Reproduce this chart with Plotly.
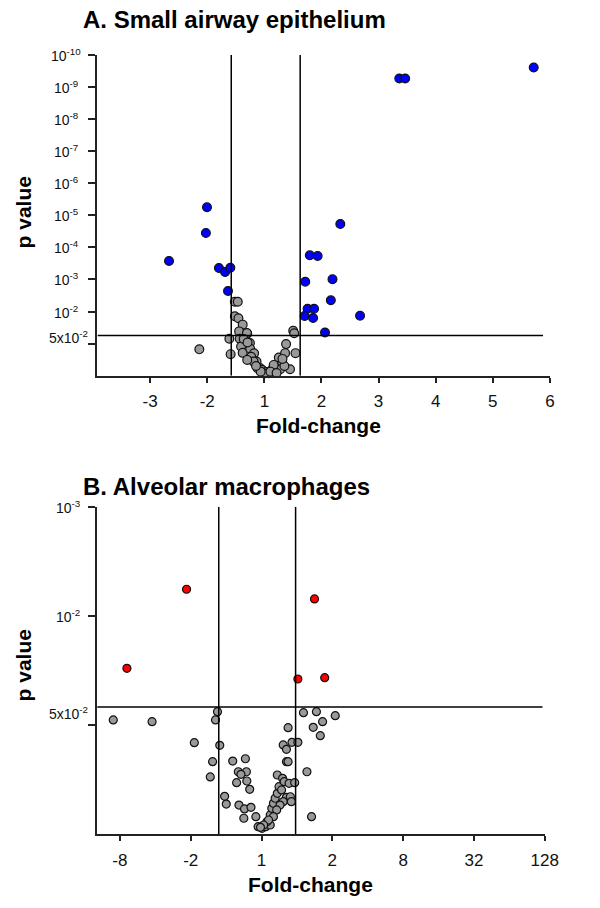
import plotly.graph_objects as go

W, H = 600, 908
FONT = "Liberation Sans, Arial, Helvetica, sans-serif"
AXC = "#222222"

# ---------------- Panel A: Small airway epithelium ----------------
# x = position on the fold-change axis (tick index units), y = -log10(p)
a_xtick_pos = [-2, -1, 0, 1, 2, 3, 4, 5]
a_xtick_text = ["-3", "-2", "1", "2", "3", "4", "5", "6"]
a_ytick_pos = [2, 3, 4, 5, 6, 7, 8, 9, 10]
a_ytick_text = ["10<sup>-%d</sup>" % v for v in a_ytick_pos]
a_fc_cut = [-0.58, 0.627]
a_p_cut = 1.253

a_sig_x = [2.363, 2.466, 4.717, -1.005, -1.024, 1.330, -1.670, -0.796, -0.688, -0.596,
           -0.637, 0.796, 0.933, 0.716, 1.193, 1.164, 0.757, 0.870, 0.705, 0.853,
           1.676, 1.062]
a_sig_y = [9.264, 9.264, 9.607, 5.249, 4.448, 4.729, 3.575, 3.357, 3.232, 3.367,
           2.640, 3.753, 3.731, 2.930, 3.005, 2.350, 2.089, 2.089, 1.861, 1.799,
           1.870, 1.347]

a_ns_x = [-0.517, -0.466, -0.517, -0.454, -0.380, -0.442, -0.300, -0.613, -0.432, -0.253,
          -0.408, -1.139, -0.591, -0.380, -0.248, -0.180, -0.231, -0.137, -0.188, -0.077,
          -0.120, -0.034, 0.026, 0.077, 0.000, 0.128, 0.214, 0.248, 0.308, 0.253,
          0.363, 0.380, 0.545, 0.505, 0.522, 0.277, 0.449, 0.163, 0.351, 0.106,
          -0.305, -0.363, -0.295, -0.065, 0.214, -0.146, -0.300, 0.317]
a_ns_y = [2.303, 2.303, 1.851, 1.789, 1.591, 1.381, 1.308, 1.152, 1.152, 1.017,
          0.910, 0.822, 0.671, 0.712, 0.838, 0.697, 0.587, 0.439, 0.439, 0.242,
          0.232, 0.179, 0.116, 0.075, 0.069, 0.179, 0.226, 0.282, 0.430, 0.565,
          0.703, 0.985, 0.703, 1.403, 1.324, 0.201, 0.201, 0.336, 0.304, 0.126,
          1.330, 1.142, 1.035, 0.126, 0.085, 0.304, 0.493, 0.524]

# ---------------- Panel B: Alveolar macrophages ----------------
b_xtick_pos = [-2, -1, 0, 1, 2, 3, 4]
b_xtick_text = ["-8", "-2", "1", "2", "8", "32", "128"]
b_ytick_pos = [2, 3]
b_ytick_text = ["10<sup>-%d</sup>" % v for v in b_ytick_pos]
b_fc_cut = [-0.604, 0.481]
b_p_cut = 1.166

b_sig_x = [-1.059, 0.748, -1.901, 0.513, 0.892]
b_sig_y = [2.244, 2.155, 1.520, 1.422, 1.434]

b_ns_x = [-2.094, -1.546, -0.949, -0.622, -0.650, -0.590, -0.691, -0.724, -0.521, -0.498,
          -0.407, -0.228, -0.328, -0.214, -0.291, -0.352, -0.208, -0.167, -0.319, -0.241,
          -0.149, -0.250, -0.080, -0.048, 0.007, 0.058, 0.123, 0.076, 0.123, 0.145,
          0.168, 0.192, 0.223, 0.247, 0.223, 0.297, 0.320, 0.283, 0.352, 0.306,
          0.407, 0.421, 0.389, 0.468, 0.352, 0.375, 0.306, 0.352, 0.430, 0.513,
          0.375, 0.592, 0.775, 1.041, 0.862, 0.730, 0.830, 0.641, 0.706, 0.261,
          0.214, 0.168, 0.099, 0.030, -0.015]
b_ns_y = [1.047, 1.031, 0.839, 1.123, 1.047, 0.815, 0.665, 0.525, 0.348, 0.277,
          0.671, 0.692, 0.573, 0.573, 0.549, 0.473, 0.488, 0.412, 0.268, 0.232,
          0.247, 0.147, 0.161, 0.070, 0.055, 0.070, 0.085, 0.115, 0.177, 0.238,
          0.284, 0.330, 0.375, 0.436, 0.543, 0.513, 0.482, 0.406, 0.339, 0.299,
          0.344, 0.299, 0.467, 0.473, 0.665, 0.665, 0.818, 0.778, 0.842, 0.842,
          0.976, 1.114, 1.123, 1.086, 1.031, 0.980, 0.903, 0.573, 0.161, 0.268,
          0.223, 0.161, 0.131, 0.085, 0.064]

# ---------------- Layout geometry (pixels) ----------------
A_x_px = (99.8, 563.0)
A_y_px = (54.9, 375.7)
A_xrange = [-2.923, 5.0]
A_yrange = [0, 10]
B_x_px = (99.5, 557.8)
B_y_px = (506.7, 834.3)
B_xrange = [-2.321, 4.0]
B_yrange = [0, 3]


def xdom(p):
    return [p[0] / W, p[1] / W]


def ydom(p):
    return [1 - p[1] / H, 1 - p[0] / H]


fig = go.Figure()


def add_points(xs, ys, color, size, xa, ya):
    fig.add_trace(go.Scatter(
        x=xs, y=ys, mode="markers", xaxis=xa, yaxis=ya, cliponaxis=False,
        marker=dict(color=color, size=size, line=dict(color="#111111", width=1.2)),
        showlegend=False, hoverinfo="skip"))


add_points(a_ns_x, a_ns_y, "#999999", 8.8, "x", "y")
add_points(a_sig_x, a_sig_y, "#0000ff", 8.8, "x", "y")
add_points(b_ns_x, b_ns_y, "#999999", 8.0, "x2", "y2")
add_points(b_sig_x, b_sig_y, "#ff0000", 8.0, "x2", "y2")

axis_common = dict(showgrid=False, zeroline=False, showline=True, linecolor=AXC,
                   linewidth=2, ticks="outside", tickcolor=AXC, tickwidth=1.6)

fig.update_layout(
    width=W, height=H, margin=dict(l=0, r=0, t=0, b=0),
    paper_bgcolor="white", plot_bgcolor="white",
    font=dict(family=FONT, color="#111111"),
    xaxis=dict(domain=xdom(A_x_px), range=A_xrange, anchor="y",
               tickvals=a_xtick_pos, ticktext=a_xtick_text, ticklen=5,
               tickfont=dict(size=17, color="#111111"), ticklabelstandoff=4, **axis_common),
    yaxis=dict(domain=ydom(A_y_px), range=A_yrange, anchor="x",
               tickvals=[1] + a_ytick_pos, ticklen=7, showticklabels=False, **axis_common),
    xaxis2=dict(domain=xdom(B_x_px), range=B_xrange, anchor="y2",
                tickvals=b_xtick_pos, ticktext=b_xtick_text, ticklen=5,
                tickfont=dict(size=17, color="#111111"), ticklabelstandoff=4, **axis_common),
    yaxis2=dict(domain=ydom(B_y_px), range=B_yrange, anchor="x2",
                tickvals=[1] + b_ytick_pos, ticklen=7, showticklabels=False, **axis_common),
)

# threshold lines
for xr, yr, cuts, pcut, xrange_, yrange_, xend in (
        ("x", "y", a_fc_cut, a_p_cut, A_xrange, A_yrange, 4.88),
        ("x2", "y2", b_fc_cut, b_p_cut, B_xrange, B_yrange, 3.968)):
    for c in cuts:
        fig.add_shape(type="line", xref=xr, yref=yr, x0=c, x1=c, y0=yrange_[0], y1=yrange_[1],
                      line=dict(color="#000000", width=1.5))
    fig.add_shape(type="line", xref=xr, yref=yr, x0=xrange_[0], x1=xend, y0=pcut, y1=pcut,
                  line=dict(color="#000000", width=1.5))

# y tick labels (centred, as in the original)
for yr, vals, texts, cx in (("y", a_ytick_pos, a_ytick_text, 68), ("y2", b_ytick_pos, b_ytick_text, 70)):
    for v, t in zip(vals, texts):
        fig.add_annotation(x=cx / W, xref="paper", y=v, yref=yr, text=t, showarrow=False,
                           xanchor="center", yanchor="middle", font=dict(size=14, color="#111111"))
fig.add_annotation(x=70.5 / W, xref="paper", y=1.216, yref="y", text="5x10<sup>-2</sup>",
                   showarrow=False, xanchor="center", yanchor="middle", font=dict(size=14, color="#111111"))
fig.add_annotation(x=70 / W, xref="paper", y=1.115, yref="y2", text="5x10<sup>-2</sup>",
                   showarrow=False, xanchor="center", yanchor="middle", font=dict(size=14, color="#111111"))

# titles
fig.add_annotation(x=83 / W, xref="paper", y=1 - 20 / H, yref="paper", text="<b>A. Small airway epithelium</b>",
                   showarrow=False, xanchor="left", yanchor="middle", font=dict(size=24, color="#000000"))
fig.add_annotation(x=83 / W, xref="paper", y=1 - 486.5 / H, yref="paper", text="<b>B. Alveolar macrophages</b>",
                   showarrow=False, xanchor="left", yanchor="middle", font=dict(size=24, color="#000000"))

# axis titles
for cx, cy in ((326, 425), (318, 884)):
    fig.add_annotation(x=cx / W, xref="paper", y=1 - cy / H, yref="paper", text="<b>Fold-change</b>",
                       showarrow=False, xanchor="center", yanchor="middle", font=dict(size=21, color="#000000"))
for cy in (212, 665):
    fig.add_annotation(x=24 / W, xref="paper", y=1 - cy / H, yref="paper", text="<b>p value</b>",
                       showarrow=False, textangle=-90, xanchor="center", yanchor="middle",
                       font=dict(size=21, color="#000000"))

# the page body has a default 8px margin; remove it so the figure fills the window exactly
fig.write_html("out.html", config={"displayModeBar": False},
               post_script="document.body.style.margin='0px';")
